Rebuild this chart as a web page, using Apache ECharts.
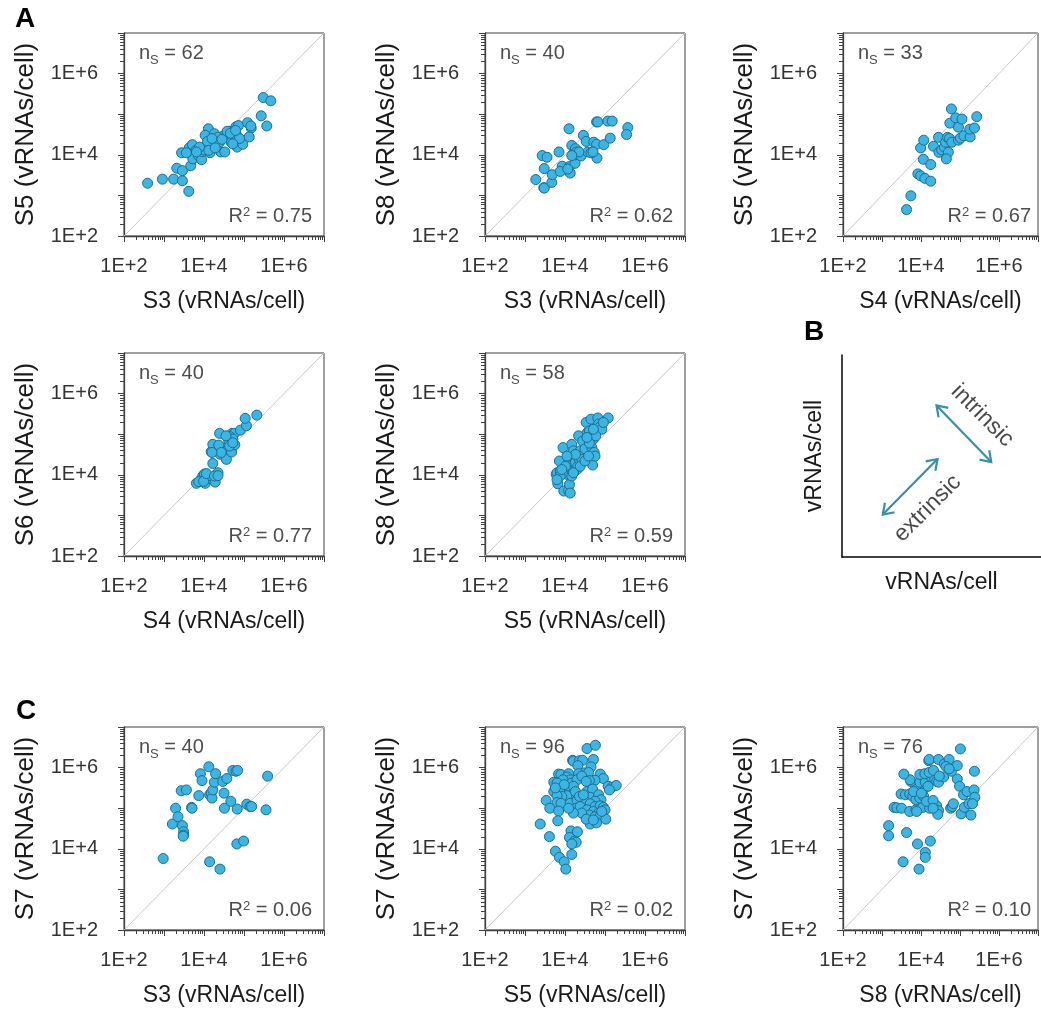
<!DOCTYPE html>
<html>
<head>
<meta charset="utf-8">
<script src="https://cdn.jsdelivr.net/npm/echarts@6/dist/echarts.min.js"></script>
<style>
  html, body { margin: 0; padding: 0; background: #fff; }
  #chart { width: 1041px; height: 1010px; }
</style>
</head>
<body>
<div id="chart"></div>
<script>
// values are log10(vRNAs/cell): [x, y]
const S3_S5 = [[2.59,3.30],[2.96,3.40],[3.24,3.40],[3.46,3.36],[3.62,3.10],[3.32,3.67],[3.46,3.61],[3.44,4.05],[3.67,3.73],[3.63,4.17],[3.71,4.25],[3.80,4.11],[3.75,4.01],[3.72,3.90],[3.86,3.98],[3.94,3.88],[3.96,4.08],[3.99,4.19],[4.11,4.64],[4.03,4.48],[4.26,4.52],[4.27,4.34],[4.15,4.05],[4.22,4.19],[4.31,4.26],[4.42,4.07],[4.52,4.07],[4.47,4.46],[4.58,4.44],[4.64,4.58],[4.70,4.40],[4.68,4.31],[4.74,4.50],[4.80,4.69],[4.82,4.48],[4.86,4.72],[4.83,4.19],[4.97,4.26],[5.09,4.79],[5.18,4.66],[5.13,4.44],[5.43,4.96],[5.57,4.71],[5.48,5.41],[5.67,5.33],[4.35,4.43],[4.39,4.31],[4.01,4.12],[3.89,4.19],[4.09,4.33],[4.20,4.40],[4.45,4.38],[4.58,4.58],[4.66,4.53],[4.89,4.40],[3.56,4.05],[3.81,4.07],[4.12,4.11],[4.28,4.17],[4.72,4.27],[5.17,4.71],[4.79,4.60]]
const S3_S8 = [[3.27,3.39],[3.43,3.98],[3.55,3.94],[3.48,3.66],[3.47,3.19],[3.48,3.18],[3.67,3.32],[3.68,3.51],[3.85,4.07],[3.93,3.72],[3.88,3.59],[4.10,4.64],[4.11,3.71],[4.13,3.55],[4.17,4.23],[4.20,4.01],[4.25,3.79],[4.26,4.15],[4.26,4.00],[4.28,4.07],[4.40,3.97],[4.46,4.48],[4.53,4.33],[4.57,4.07],[4.72,4.31],[4.79,4.26],[4.80,3.92],[4.79,4.81],[4.82,4.81],[4.97,4.25],[5.07,4.83],[5.18,4.83],[5.13,4.41],[5.57,4.67],[5.54,4.50],[4.65,4.05],[4.35,4.07],[4.17,3.98],[4.70,4.07],[4.07,3.65]]
const S4_S5 = [[3.63,2.65],[3.74,2.99],[3.92,3.53],[3.99,3.48],[4.10,3.42],[4.25,3.35],[3.99,4.17],[4.07,4.36],[4.06,3.89],[4.25,3.76],[4.32,4.21],[4.45,4.43],[4.46,4.06],[4.53,4.12],[4.60,4.19],[4.63,4.31],[4.70,4.06],[4.65,3.90],[4.68,4.43],[4.73,4.40],[4.79,4.31],[4.78,5.13],[4.74,4.78],[4.89,4.91],[4.96,4.68],[5.05,4.88],[4.96,4.36],[5.01,4.41],[5.10,4.47],[5.26,4.44],[5.25,4.63],[5.37,4.66],[5.43,4.94]]
const S4_S6 = [[3.81,3.79],[3.92,3.88],[3.97,3.97],[4.01,4.02],[4.03,3.79],[4.16,3.90],[4.28,3.82],[4.31,4.01],[4.35,4.05],[4.22,4.28],[4.18,4.57],[4.22,4.75],[4.37,4.73],[4.40,4.51],[4.39,5.02],[4.56,4.38],[4.60,4.64],[4.62,4.83],[4.68,4.90],[4.69,4.56],[4.70,5.02],[4.76,5.02],[4.77,4.74],[4.91,5.10],[5.06,5.21],[5.03,5.39],[5.32,5.47],[4.65,4.94],[4.72,4.88],[4.10,3.97],[3.87,3.83],[3.99,3.84],[4.06,4.03],[4.26,3.97],[4.35,3.98],[4.64,4.71],[4.43,4.55],[4.20,4.55],[4.72,4.79],[4.55,4.96]]
const S5_S8 = [[3.82,3.78],[3.78,4.01],[3.80,4.05],[3.88,4.09],[3.86,4.34],[3.97,3.60],[4.09,3.61],[4.11,3.76],[3.98,4.05],[4.05,4.01],[4.17,3.97],[4.19,4.09],[4.13,4.21],[4.09,4.30],[4.11,4.46],[3.95,4.67],[4.17,4.75],[4.21,4.59],[4.26,4.30],[4.30,4.13],[4.32,4.21],[4.36,4.38],[4.38,4.59],[4.34,4.96],[4.44,4.83],[4.46,4.50],[4.50,4.64],[4.56,5.04],[4.53,5.29],[4.61,5.08],[4.65,5.37],[4.67,4.67],[4.69,4.24],[4.73,4.55],[4.75,4.46],[4.82,5.40],[4.84,5.25],[4.86,5.17],[4.92,5.12],[4.71,4.88],[4.61,4.78],[5.08,5.40],[4.77,4.96],[4.55,4.92],[4.42,4.38],[4.26,4.50],[4.05,4.46],[4.01,4.21],[3.88,3.97],[4.21,4.05],[4.38,4.21],[4.50,4.34],[4.59,4.46],[4.13,3.55],[3.80,3.88],[3.92,4.13],[4.71,5.12],[4.96,5.29]]
const S3_S7 = [[2.98,3.76],[3.21,4.61],[3.29,5.00],[3.35,4.79],[3.43,5.43],[3.56,5.45],[3.46,4.57],[3.49,4.42],[3.49,4.34],[3.48,4.31],[3.69,5.02],[3.70,5.00],[3.87,5.31],[3.91,5.85],[3.95,5.68],[4.12,6.02],[4.14,5.33],[4.18,5.37],[4.20,5.25],[4.22,5.45],[4.26,5.64],[4.29,5.85],[4.14,3.68],[4.40,3.50],[4.47,5.66],[4.50,5.37],[4.51,5.00],[4.57,5.73],[4.67,5.17],[4.72,5.93],[4.80,5.91],[4.84,5.93],[4.83,4.98],[4.82,4.12],[4.99,4.19],[5.07,5.10],[5.15,5.04],[5.19,5.04],[5.55,4.96],[5.59,5.79]]
const S5_S7 = [[4.55,6.47],[4.76,6.55],[4.19,6.18],[4.21,6.16],[4.36,6.17],[4.44,6.18],[4.71,6.20],[4.32,6.05],[4.65,6.02],[4.48,5.87],[4.59,5.88],[4.34,5.85],[3.84,5.84],[3.90,5.83],[4.09,5.85],[4.05,5.77],[4.13,5.70],[3.95,5.70],[3.72,5.64],[3.80,5.62],[4.17,5.62],[4.30,5.70],[4.42,5.79],[4.88,5.84],[4.96,5.73],[4.75,5.69],[4.61,5.68],[4.53,5.66],[5.08,5.54],[5.18,5.52],[5.28,5.56],[5.11,5.45],[3.72,5.41],[3.88,5.41],[3.98,5.45],[4.11,5.45],[4.21,5.54],[4.17,5.33],[4.05,5.31],[3.92,5.29],[3.80,5.31],[4.55,5.41],[4.69,5.47],[4.63,5.27],[4.84,5.33],[4.90,5.21],[4.75,5.17],[3.53,5.19],[3.80,5.14],[3.90,5.12],[4.13,5.12],[4.30,5.19],[4.50,5.17],[4.63,5.11],[4.75,5.04],[4.88,5.06],[4.96,5.02],[4.28,5.00],[4.38,5.04],[3.62,5.00],[3.84,4.93],[4.55,4.96],[4.71,4.92],[4.84,4.88],[5.00,4.96],[3.82,4.69],[4.61,4.83],[4.75,4.79],[4.88,4.81],[5.02,4.73],[4.63,4.61],[4.79,4.64],[3.38,4.61],[3.61,4.30],[4.15,4.44],[4.31,4.42],[4.11,4.28],[4.24,4.19],[4.28,4.16],[4.17,4.12],[3.76,3.94],[4.17,3.86],[3.86,3.79],[3.98,3.68],[4.02,3.50],[3.98,5.58],[4.26,5.41],[4.36,5.29],[4.46,5.33],[3.76,5.50],[4.42,4.88],[4.21,4.88],[4.09,5.00],[4.53,4.73],[4.71,4.71],[4.92,4.92]]
const S8_S7 = [[3.17,4.57],[3.17,4.32],[3.63,4.40],[3.54,3.68],[3.91,4.12],[3.95,3.50],[4.11,3.91],[4.11,3.79],[4.24,4.19],[3.31,5.02],[3.38,5.01],[3.50,5.00],[3.71,4.92],[3.87,4.96],[4.04,5.02],[4.22,5.00],[4.40,5.06],[4.45,4.94],[4.43,4.85],[4.76,5.00],[4.80,5.04],[4.83,5.11],[5.03,4.86],[5.28,4.83],[5.11,5.02],[5.23,5.11],[3.49,5.35],[3.60,5.33],[3.71,5.35],[3.79,5.29],[3.87,5.21],[3.97,5.25],[4.07,5.29],[4.14,5.17],[4.31,5.19],[4.07,5.47],[3.97,5.45],[3.87,5.51],[3.74,5.66],[3.72,5.70],[3.97,5.64],[4.11,5.64],[4.26,5.77],[4.35,5.73],[4.40,5.66],[4.45,5.64],[4.58,5.77],[4.93,5.72],[4.99,5.54],[5.09,5.33],[5.18,5.41],[5.36,5.45],[5.38,5.27],[5.32,5.11],[3.56,5.84],[3.97,5.83],[4.10,5.85],[4.21,5.88],[4.32,5.93],[4.20,6.17],[4.21,6.20],[4.45,6.20],[4.60,6.09],[4.72,6.20],[4.64,6.03],[4.78,5.91],[4.93,6.05],[5.37,5.91],[5.01,6.46],[4.72,5.97],[3.81,5.41],[4.01,5.37],[4.18,5.54],[4.47,5.79],[4.31,5.00],[3.89,4.92]]

const N_S = [62, 40, 33, 40, 58, 40, 96, 76]
const R2 = ['0.75', '0.62', '0.67', '0.77', '0.59', '0.06', '0.02', '0.10']
const X_SEG = ['S3', 'S3', 'S4', 'S4', 'S5', 'S3', 'S5', 'S8']
const Y_SEG = ['S5', 'S8', 'S5', 'S6', 'S8', 'S7', 'S7', 'S7']
const SETS = [S3_S5, S3_S8, S4_S5, S4_S6, S5_S8, S3_S7, S5_S7, S8_S7]

const TICK_EXP = [2, 4, 6]
const TICK_LABELS = ['1E+2', '1E+4', '1E+6']

// schematic (panel B), in the panel's 0..1 units: [x0, y0, x1, y1]
const SCHEME_ARROWS = [[0.475, 0.75, 0.75, 0.47], [0.205, 0.21, 0.48, 0.485]]
const SCHEME_WORDS = ['intrinsic', 'extrinsic']
const SCHEME_WORD_AT = [[0.705, 0.70], [0.43, 0.24]]
const SCHEME_WORD_ROT = [-45, 45]

const FONT = 'Liberation Sans, Arial, sans-serif'
const DOT = '#3cb4e4'
const DOT_EDGE = '#1d6e8e'
const ARROW = '#3a8ea7'
const AXIS = '#404040'

// layout
const COLS = [124, 485, 843]
const ROWS = [33, 353, 727]
const W = 200, H = 203
const CELL = [[0, 0], [1, 0], [2, 0], [0, 1], [1, 1], [0, 2], [1, 2], [2, 2]]

const minorTicks = []
for (let d = 2; d < 7; d++) for (let m = 2; m <= 9; m++) minorTicks.push([m * 10 ** d, m * 10 ** d])

function tickFmt(v) {
  const i = TICK_EXP.indexOf(Math.round(Math.log10(v)))
  return i < 0 ? '' : TICK_LABELS[i]
}

const grid = [], xAxis = [], yAxis = [], series = [], graphic = []

SETS.forEach((pts, i) => {
  const [c, r] = CELL[i]
  const left = COLS[c], top = ROWS[r]
  grid.push({ left, top, width: W, height: H, show: true, borderColor: AXIS, borderWidth: 1, backgroundColor: 'transparent' })
  const common = {
    gridIndex: i, type: 'log', logBase: 10, min: 1e2, max: 1e7,
    nameLocation: 'middle',
    axisLine: { lineStyle: { color: AXIS, width: 1.3 } },
    axisTick: { length: 6, lineStyle: { color: AXIS, width: 1 } },
    axisLabel: { formatter: tickFmt, fontSize: 20, color: '#333', fontFamily: FONT, showMinLabel: true, showMaxLabel: true },
    splitLine: { show: false },
  }
  xAxis.push({ ...common, name: `${X_SEG[i]} (vRNAs/cell)`, nameGap: 54,
    nameTextStyle: { fontSize: 23, color: '#1a1a1a', fontFamily: FONT },
    axisLabel: { ...common.axisLabel, margin: 20 } })
  yAxis.push({ ...common, name: `${Y_SEG[i]} (vRNAs/cell)`, nameGap: 85,
    nameTextStyle: { fontSize: 26, color: '#1a1a1a', fontFamily: FONT },
    axisLabel: { ...common.axisLabel, margin: 26 } })

  series.push({
    type: 'line', xAxisIndex: i, yAxisIndex: i, silent: true, showSymbol: false, z: 1,
    data: [[1e2, 1e2], [1e7, 1e7]],
    lineStyle: { color: '#c8c8c8', width: 1 },
  })
  series.push({
    type: 'custom', xAxisIndex: i, yAxisIndex: i, silent: true, clip: false, z: 2,
    data: minorTicks,
    renderItem: (params, api) => {
      const v = api.value(0)
      const px = api.coord([v, 1e2])
      const py = api.coord([1e2, v])
      const st = { stroke: AXIS, lineWidth: 1 }
      const x = Math.round(px[0]) + 0.5, y = Math.round(py[1]) + 0.5
      return { type: 'group', children: [
        { type: 'line', shape: { x1: x, y1: px[1], x2: x, y2: px[1] + 4 }, style: st },
        { type: 'line', shape: { x1: py[0], y1: y, x2: py[0] - 4, y2: y }, style: st },
      ] }
    },
  })
  series.push({
    type: 'scatter', xAxisIndex: i, yAxisIndex: i, z: 3,
    data: pts.map(([a, b]) => [10 ** a, 10 ** b]),
    symbolSize: 10,
    itemStyle: { color: DOT, borderColor: DOT_EDGE, borderWidth: 1, opacity: 1 },
  })

  // n_S: the sub token's box is a bit taller than the line, so S sits lower
  graphic.push({
    type: 'text', x: left + 15, y: top + 22,
    style: {
      text: `{t|n}{s|S}{t| = ${N_S[i]}}`, verticalAlign: 'middle', textVerticalAlign: 'middle',
      rich: {
        t: { fontSize: 20, lineHeight: 20, fill: '#4d4d4d', fontFamily: FONT, verticalAlign: 'top' },
        s: { fontSize: 13, lineHeight: 23, fill: '#4d4d4d', fontFamily: FONT, verticalAlign: 'bottom' },
      },
    },
  })
  graphic.push({
    type: 'text', x: left + W - 12, y: top + H - 20,
    style: {
      text: `{t|R}{s|2}{t| = ${R2[i]}}`, align: 'right', textAlign: 'right', verticalAlign: 'middle', textVerticalAlign: 'middle',
      rich: {
        t: { fontSize: 20, fill: '#4d4d4d', fontFamily: FONT },
        s: { fontSize: 13, fill: '#4d4d4d', fontFamily: FONT, verticalAlign: 'top' },
      },
    },
  })
})

// panel B schematic
const bi = SETS.length
grid.push({ left: 842, top: 355, width: 200, height: 202 })
const schemeAxis = {
  gridIndex: bi, type: 'value', min: 0, max: 1,
  name: 'vRNAs/cell', nameLocation: 'middle', nameGap: 14,
  nameTextStyle: { fontSize: 23, color: '#1a1a1a', fontFamily: FONT },
  axisLine: { lineStyle: { color: '#000', width: 1.5 } },
  axisTick: { show: false }, axisLabel: { show: false }, splitLine: { show: false },
}
xAxis.push({ ...schemeAxis })
yAxis.push({ ...schemeAxis, nameGap: 16 })

series.push({
  type: 'custom', xAxisIndex: bi, yAxisIndex: bi, silent: true, clip: false,
  data: SCHEME_ARROWS,
  renderItem: (params, api) => {
    const p0 = api.coord([api.value(0), api.value(1)])
    const p1 = api.coord([api.value(2), api.value(3)])
    const dx = p1[0] - p0[0], dy = p1[1] - p0[1]
    const len = Math.hypot(dx, dy), ux = dx / len, uy = dy / len
    const head = (p, sx, sy) => {
      const a = 0.6, L = 12
      const b1 = [p[0] + L * (sx * Math.cos(a) - sy * Math.sin(a)), p[1] + L * (sx * Math.sin(a) + sy * Math.cos(a))]
      const b2 = [p[0] + L * (sx * Math.cos(-a) - sy * Math.sin(-a)), p[1] + L * (sx * Math.sin(-a) + sy * Math.cos(-a))]
      return { type: 'polyline', shape: { points: [b1, p, b2] }, style: { stroke: ARROW, lineWidth: 2.2, fill: null, lineJoin: 'miter' } }
    }
    return { type: 'group', children: [
      { type: 'line', shape: { x1: p0[0], y1: p0[1], x2: p1[0], y2: p1[1] }, style: { stroke: ARROW, lineWidth: 2.2 } },
      head(p1, -ux, -uy),
      head(p0, ux, uy),
    ] }
  },
})
series.push({
  type: 'scatter', xAxisIndex: bi, yAxisIndex: bi, silent: true, symbolSize: 1,
  itemStyle: { color: 'transparent' },
  data: SCHEME_WORDS.map((w, k) => ({
    value: SCHEME_WORD_AT[k], name: w,
    label: { show: true, position: 'inside', formatter: w, rotate: SCHEME_WORD_ROT[k], fontSize: 23, color: '#1a1a1a', fontFamily: FONT },
  })),
})

const letter = (t, x, y) => ({ type: 'text', x, y, style: { text: t, fontSize: 28, fontWeight: 'bold', fill: '#000', fontFamily: FONT } })
graphic.push(letter('A', 15, 5), letter('B', 804, 318), letter('C', 16, 697))

const chart = echarts.init(document.getElementById('chart'))
chart.setOption({
  animation: false,
  backgroundColor: '#fff',
  textStyle: { fontFamily: FONT },
  grid, xAxis, yAxis, series, graphic,
})
</script>
</body>
</html>
